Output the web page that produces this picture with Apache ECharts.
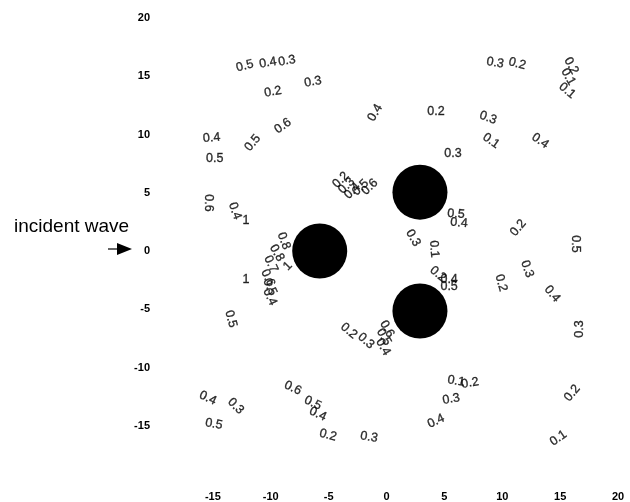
<!DOCTYPE html>
<html>
<head>
<meta charset="utf-8">
<script src="https://cdn.jsdelivr.net/npm/echarts@6/dist/echarts.min.js"></script>
<style>
  html, body { margin: 0; padding: 0; background: #fff; }
  #chart { width: 630px; height: 502px; }
</style>
</head>
<body>
<div id="chart"></div>
<script>
// Axis ticks
const xTicks = [-15, -10, -5, 0, 5, 10, 15, 20];
const yTicks = [-15, -10, -5, 0, 5, 10, 15, 20];

// Scatterers: centres and radius (domain units)
const cylX = [-5.77, 2.89, 2.89];
const cylY = [0, 5.05, -5.15];
const cylR = [2.37, 2.37, 2.37];

// Contour level labels: position, level, and local contour direction (degrees, CCW)
const labelX = [
  -12.24, -10.25, -8.61, -9.82, -6.36, -8.95, -11.55, -15.1, -14.84, -0.99,
  9.39, 11.29, 15.96, 15.7, 15.61, 4.28, 8.78, 9.04, 13.28, 5.75,
  -15.35, -13.1, -12.15, -12.15, -8.87, -9.47, -8.52, -9.99, -10.25, -10.08,
  -10.08, -13.45, -3.95, -3.45, -2.95, -2.25, -1.45, 6.01, 6.27, 2.29,
  4.11, 4.45, 5.41, 5.41, 11.38, 16.31, 12.15, 9.9, 14.32, 16.65,
  -3.24, -1.77, 0.04, -0.22, -0.30, -8.09, -6.36, -5.93, -5.06, -1.51,
  -15.44, -13.02, -14.92, 6.01, 7.22, 5.58, 4.28, 16.05, 14.84
];
const labelY = [
  15.89, 16.15, 16.32, 13.66, 14.52, 10.74, 9.28, 9.71, 7.90, 11.86,
  16.15, 16.07, 15.89, 14.95, 13.75, 11.94, 11.43, 9.45, 9.45, 8.33,
  4.12, 3.44, 2.58, -2.41, 0.86, -0.17, -1.29, -1.12, -2.32, -3.09,
  -3.95, -5.84, 6.1, 5.6, 5.15, 5.45, 5.5, 3.18, 2.41, 1.12,
  0.17, -1.98, -2.41, -3.09, 1.98, 0.60, -1.55, -2.75, -3.69, -6.70,
  -6.87, -7.73, -6.70, -7.39, -8.25, -11.77, -13.06, -14.0, -15.81, -15.98,
  -12.63, -13.32, -14.86, -11.17, -11.34, -12.71, -14.6, -12.2, -16.07
];
const labelText = [
  '0.5', '0.4', '0.3', '0.2', '0.3', '0.6', '0.5', '0.4', '0.5', '0.4',
  '0.3', '0.2', '0.2', '0.1', '0.1', '0.2', '0.3', '0.1', '0.4', '0.3',
  '0.6', '0.4', '1', '1', '0.8', '0.8', '1', '0.7', '0.6', '0.5',
  '0.4', '0.5', '0.2', '0.3', '0.4', '0.5', '0.6', '0.5', '0.4', '0.3',
  '0.1', '0.2', '0.4', '0.5', '0.2', '0.5', '0.3', '0.2', '0.4', '0.3',
  '0.2', '0.3', '0.6', '0.5', '0.4', '0.6', '0.5', '0.4', '0.2', '0.3',
  '0.4', '0.3', '0.5', '0.1', '0.2', '0.3', '0.4', '0.2', '0.1'
];
const labelAngle = [
  15, 10, 10, 10, 10, 35, 50, 5, 0, 60,
  -10, -15, -60, -60, -40, 0, -20, -35, -35, 0,
  -90, -70, 0, 0, -70, -60, 45, -65, -65, -65,
  -65, -75, 45, 45, 45, 45, 45, -5, -5, -60,
  -85, -40, 0, 0, 50, -90, -70, -75, -50, 90,
  -40, -40, -60, -60, -60, -25, -25, -25, -15, -10,
  -25, -45, -10, -10, 10, 10, 25, 50, 35
];

const labelData = labelX.map((x, i) => ({
  value: [x, labelY[i]],
  label: { formatter: labelText[i], rotate: labelAngle[i] }
}));

const cylData = cylX.map((x, i) => [x, cylY[i], cylR[i]]);

const chart = echarts.init(document.getElementById('chart'), null, { renderer: 'canvas' });

const axisText = {
  color: '#000',
  fontFamily: 'Liberation Sans, Arial, sans-serif',
  fontSize: 11,
  fontWeight: 'bold'
};

chart.setOption({
  animation: false,
  backgroundColor: '#fff',
  grid: { left: 155, right: 12, top: 18, bottom: 18, containLabel: false },
  xAxis: {
    type: 'value', min: -20, max: 20, interval: 5,
    axisLine: { show: false }, axisTick: { show: false }, splitLine: { show: false },
    axisLabel: Object.assign({ margin: 7, showMinLabel: false,
      formatter: v => (xTicks.includes(v) ? String(v) : '') }, axisText)
  },
  yAxis: {
    type: 'value', min: -20, max: 20, interval: 5,
    axisLine: { show: false }, axisTick: { show: false }, splitLine: { show: false },
    axisLabel: Object.assign({ margin: 5, showMinLabel: false,
      formatter: v => (yTicks.includes(v) ? String(v) : '') }, axisText)
  },
  series: [
    {
      type: 'custom',
      coordinateSystem: 'cartesian2d',
      data: cylData,
      renderItem: function (params, api) {
        const c = api.coord([api.value(0), api.value(1)]);
        const s = api.size([api.value(2), api.value(2)]);
        return {
          type: 'circle',
          shape: { cx: c[0], cy: c[1], r: (s[0] + s[1]) / 2 },
          style: { fill: '#000' }
        };
      },
      z: 2
    },
    {
      type: 'scatter',
      symbolSize: 0,
      data: labelData,
      label: {
        show: true,
        position: 'inside',
        color: '#000',
        fontFamily: 'Liberation Sans, Arial, sans-serif',
        fontSize: 12.5,
        textBorderColor: '#000',
        textBorderWidth: 0.35
      },
      z: 3
    }
  ],
  graphic: [
    {
      type: 'text', left: 14, top: 217,
      style: { text: 'incident wave', fill: '#000', font: '19px "Liberation Sans", Arial, sans-serif' }
    },
    {
      type: 'line',
      shape: { x1: 108, y1: 249, x2: 119, y2: 249 },
      style: { stroke: '#000', lineWidth: 1.2 }
    },
    {
      type: 'polygon',
      shape: { points: [[117, 243], [132, 249], [117, 255]] },
      style: { fill: '#000' }
    }
  ]
});
</script>
</body>
</html>
